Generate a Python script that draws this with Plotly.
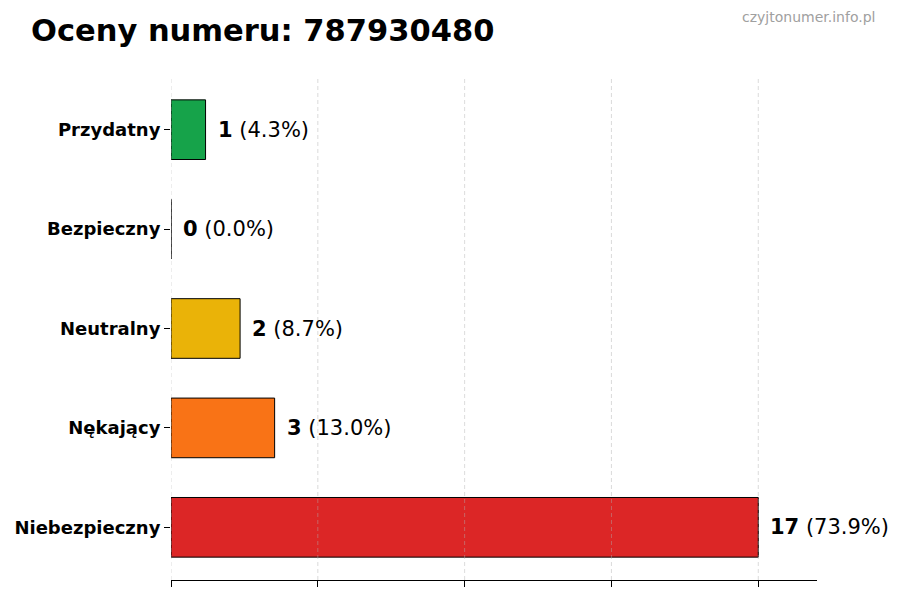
import plotly.graph_objects as go

# data, bottom-to-top as drawn
categories = ["Niebezpieczny", "Nękający", "Neutralny", "Bezpieczny", "Przydatny"]
counts = [17, 3, 2, 0, 1]
colors = ["#DC2626", "#F97316", "#EAB308", "#9CA3AF", "#16A34A"]
title_text = "Oceny numeru: 787930480"
watermark = "czyjtonumer.info.pl"

FONT = "DejaVu Sans"
total = sum(counts)
xmax = max(counts) * 1.1
grid_vals = [max(counts) * i / 4 for i in range(5)]

# page body has an 8px margin, so the figure is a little smaller than the window
W, H = 892, 592
ML, MR, MT, MB = 163, 83, 69, 20
pw, ph = W - ML - MR, H - MT - MB

fig = go.Figure(
    go.Bar(
        x=counts,
        y=categories,
        orientation="h",
        width=0.6,
        marker=dict(color=colors, line=dict(color="#000000", width=1)),
        hoverinfo="skip",
    )
)

# dashed grid drawn over the bars, like the original
for gv in grid_vals:
    fig.add_shape(
        type="line", xref="x", yref="paper", x0=gv, x1=gv, y0=0, y1=1,
        line=dict(color="rgba(175,175,175,0.45)", width=1, dash="4px,3px"),
        layer="above",
    )

# value labels: bold count + percentage
for cat, n in zip(categories, counts):
    pct = 100 * n / total if total else 0
    fig.add_annotation(
        x=n, y=cat, xref="x", yref="y",
        text=f"<b>{n}</b> ({pct:.1f}%)",
        showarrow=False, xanchor="left", xshift=10,
        font=dict(family=FONT, size=21, color="#000000"),
    )

fig.add_annotation(
    text=f"<b>{title_text}</b>", xref="paper", yref="paper",
    x=-142 / pw, y=1 + 47 / ph, xanchor="left", yanchor="middle",
    showarrow=False, font=dict(family=FONT, size=30.5, color="#000000"),
)
fig.add_annotation(
    text=watermark, xref="paper", yref="paper",
    x=1 + 60 / pw, y=1 + 60 / ph, xanchor="right", yanchor="middle",
    showarrow=False, font=dict(family=FONT, size=14, color="#A0A0A0"),
)

fig.update_layout(
    width=W, height=H,
    margin=dict(l=ML, r=MR, t=MT, b=MB, autoexpand=False),
    plot_bgcolor="white", paper_bgcolor="white",
    showlegend=False,
    font=dict(family=FONT, color="#000000"),
)
fig.update_xaxes(
    range=[0, xmax], tickvals=grid_vals, showticklabels=False,
    showgrid=False, zeroline=False, automargin=False,
    showline=True, linecolor="#000000", linewidth=1,
    ticks="outside", ticklen=6, tickcolor="#000000",
)
fig.update_yaxes(
    range=[-0.53, len(categories) - 0.47],
    showgrid=False, zeroline=False, showline=False, automargin=False,
    ticks="outside", ticklen=6, tickcolor="#000000",
    tickfont=dict(family=FONT, size=18, weight="bold", color="#000000"),
)

fig.write_html("out.html")
